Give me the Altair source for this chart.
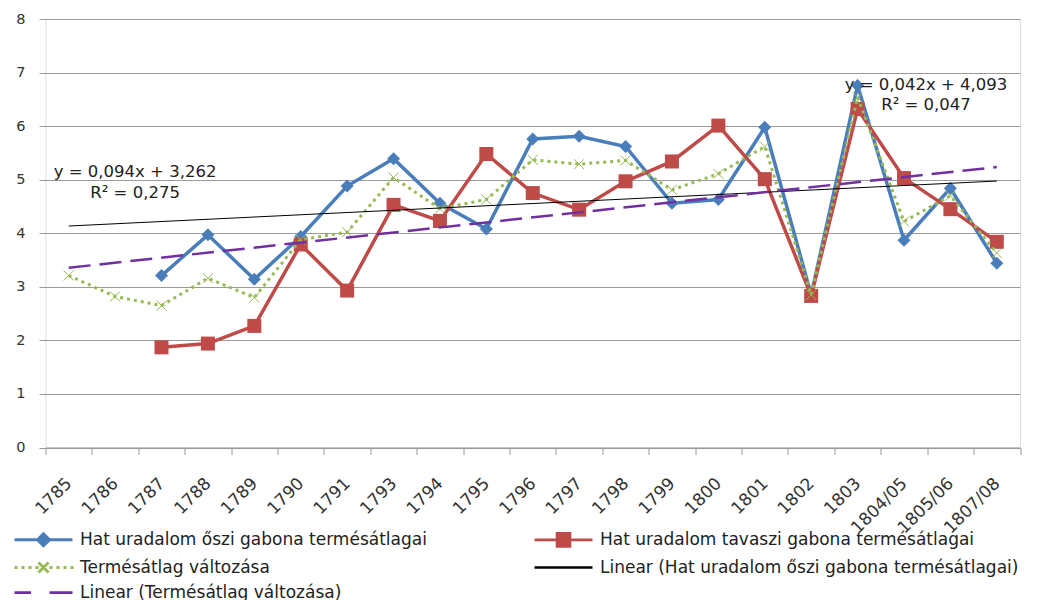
import altair as alt
import pandas as pd

categories = ["1785", "1786", "1787", "1788", "1789", "1790", "1791", "1793", "1794",
              "1795", "1796", "1797", "1798", "1799", "1800", "1801", "1802", "1803",
              "1804/05", "1805/06", "1807/08"]

oszi = [None, None, 3.21, 3.97, 3.14, 3.94, 4.88, 5.39, 4.56, 4.08, 5.76, 5.81, 5.62,
        4.56, 4.63, 5.98, 2.85, 6.76, 3.87, 4.84, 3.44]
tavaszi = [None, None, 1.87, 1.94, 2.27, 3.79, 2.93, 4.53, 4.23, 5.48, 4.75, 4.44, 4.97,
           5.34, 6.01, 5.01, 2.83, 6.32, 5.03, 4.45, 3.84]
valtozas = [3.21, 2.82, 2.65, 3.16, 2.80, 3.88, 4.02, 5.04, 4.46, 4.63, 5.37, 5.29, 5.36,
            4.81, 5.11, 5.62, 2.85, 6.54, 4.22, 4.70, 3.63]

# trendline equations printed on the chart (x = 1 .. 21)
trend_oszi = (0.042, 4.093)
trend_valt = (0.094, 3.262)

S_OSZI = "Hat uradalom őszi gabona termésátlagai"
S_TAV = "Hat uradalom tavaszi gabona termésátlagai"
S_VAL = "Termésátlag változása"
S_LIN_OSZI = "Linear (Hat uradalom őszi gabona termésátlagai)"
S_LIN_VAL = "Linear (Termésátlag változása)"
# legend lays out column by column: left column first, then right column
legend_order = [S_OSZI, S_VAL, S_LIN_VAL, S_TAV, S_LIN_OSZI]

eq_texts = ["y = 0,094x + 3,262", "R² = 0,275", "y = 0,042x + 4,093", "R² = 0,047"]
eq_cats = ["1786", "1786", "1804/05", "1804/05"]
eq_vals = [5.15, 4.76, 6.77, 6.40]

BLUE = "#4a7ebb"
RED = "#be4b48"
GREEN = "#98b954"
BLACK = "#000000"
PURPLE = "#7030a0"
GRID = "#9a9a9a"
FONT = "DejaVu Sans"


def series_df(vals):
    return pd.DataFrame([{"cat": c, "v": v} for c, v in zip(categories, vals) if v is not None])


def trend_df(tr):
    m, b = tr
    n = len(categories)
    return pd.DataFrame({"cat": [categories[0], categories[-1]], "v": [m * 1 + b, m * n + b]})


xenc = alt.X(
    "cat:N",
    sort=categories,
    scale=alt.Scale(type="band", domain=categories, paddingInner=0, paddingOuter=0),
    axis=alt.Axis(
        title=None, grid=False, domainColor=GRID, tickColor=GRID, tickSize=7,
        tickBand="extent", labelAngle=315, labelAlign="right", labelBaseline="middle",
        labelPadding=26, labelFont=FONT, labelFontSize=17, labelColor="#333333",
    ),
)
yenc = alt.Y(
    "v:Q",
    scale=alt.Scale(domain=[0, 8], nice=False, zero=True),
    axis=alt.Axis(
        title=None, values=[0, 1, 2, 3, 4, 5, 6, 7, 8], grid=True, gridColor=GRID,
        domain=False, tickColor=GRID, tickSize=6.5, labelPadding=14,
        labelFont=FONT, labelFontSize=14.5, labelColor="#333333", format="d",
    ),
)


def line(df, color, width, dash=None):
    kw = dict(color=color, strokeWidth=width)
    if dash:
        kw["strokeDash"] = dash
    return alt.Chart(df).mark_line(**kw).encode(x=xenc, y=yenc)


def pts(df, shape, size, color, filled=True, sw=1):
    return alt.Chart(df).mark_point(shape=shape, size=size, color=color, filled=filled,
                                    opacity=1, strokeWidth=sw).encode(x=xenc, y=yenc)


d_oszi = series_df(oszi)
d_tav = series_df(tavaszi)
d_val = series_df(valtozas)

# legend symbol paths (unit = 5px)
dots = "".join(f"M{-5.8 + i * 1.4:.2f},0L{-5.8 + i * 1.4 + 0.6:.2f},0" for i in range(9))
sym = {
    S_OSZI: ("M-5.8,0L5.8,0M-1.2,0L0,-1.2L1.2,0L0,1.2Z", BLUE, 3),
    S_TAV: ("M-5.8,0L5.8,0M-1.3,-1.3L1.3,-1.3L1.3,1.3L-1.3,1.3Z", RED, 3),
    S_VAL: (dots + "M-1,-1L1,1M-1,1L1,-1", GREEN, 2.5),
    S_LIN_OSZI: ("M-5.8,0L5.8,0", BLACK, 1),
    S_LIN_VAL: ("M-5.8,0L-2.5,0M1.2,0L5.8,0", PURPLE, 2.5),
}
legend_paths = [sym[s][0] for s in legend_order]
legend_colors = [sym[s][1] for s in legend_order]
legend_widths = [sym[s][2] for s in legend_order]

leg_df = pd.DataFrame({"series": legend_order, "cat": [categories[0]] * 5, "v": [None] * 5})
leg = alt.Legend(
    title=None, orient="none", legendX=-31, legendY=512, columns=2, columnPadding=101,
    rowPadding=4, symbolSize=100, symbolOffset=20.5, labelOffset=28, labelLimit=700,
    labelFont=FONT, labelFontSize=17, labelColor="#222222", symbolOpacity=1,
)
legend_layer = alt.Chart(leg_df).mark_point(opacity=1, filled=True).encode(
    x=xenc, y=yenc,
    fill=alt.Fill("series:N", sort=legend_order,
                  scale=alt.Scale(domain=legend_order, range=legend_colors), legend=leg),
    stroke=alt.Stroke("series:N", sort=legend_order,
                      scale=alt.Scale(domain=legend_order, range=legend_colors), legend=leg),
    shape=alt.Shape("series:N", sort=legend_order,
                    scale=alt.Scale(domain=legend_order, range=legend_paths), legend=leg),
    strokeWidth=alt.StrokeWidth("series:N", sort=legend_order,
                                scale=alt.Scale(domain=legend_order, range=legend_widths),
                                legend=leg),
)

eq_df = pd.DataFrame({"cat": eq_cats, "v": eq_vals, "t": eq_texts})
eq_left = alt.Chart(eq_df.iloc[:2]).mark_text(font=FONT, fontSize=16.5, color="#222222",
                                              align="center", baseline="middle", dx=20).encode(
    x=xenc, y=yenc, text="t:N")
eq_right = alt.Chart(eq_df.iloc[2:]).mark_text(font=FONT, fontSize=16.5, color="#222222",
                                               align="center", baseline="middle", dx=22).encode(
    x=xenc, y=yenc, text="t:N")

chart = alt.layer(
    line(d_oszi, BLUE, 3.5),
    pts(d_oszi, "diamond", 169, BLUE),
    line(d_tav, RED, 3.5),
    pts(d_tav, "square", 196, RED),
    line(d_val, GREEN, 3, [3, 4]),
    pts(d_val, "M-1,-1L1,1M-1,1L1,-1", 100, GREEN, filled=False, sw=1),
    line(trend_df(trend_oszi), BLACK, 1),
    line(trend_df(trend_valt), PURPLE, 2.5, [22, 9]),
    eq_left,
    eq_right,
    legend_layer,
).properties(
    width=974.5, height=428.5,
    autosize=alt.AutoSizeParams(type="none"),
    padding={"left": 37.5, "top": 11, "right": 12, "bottom": 152.5},
).configure_view(stroke=None).configure(background="white")

chart.save("out.html", embed_options={"renderer": "svg", "actions": False})
